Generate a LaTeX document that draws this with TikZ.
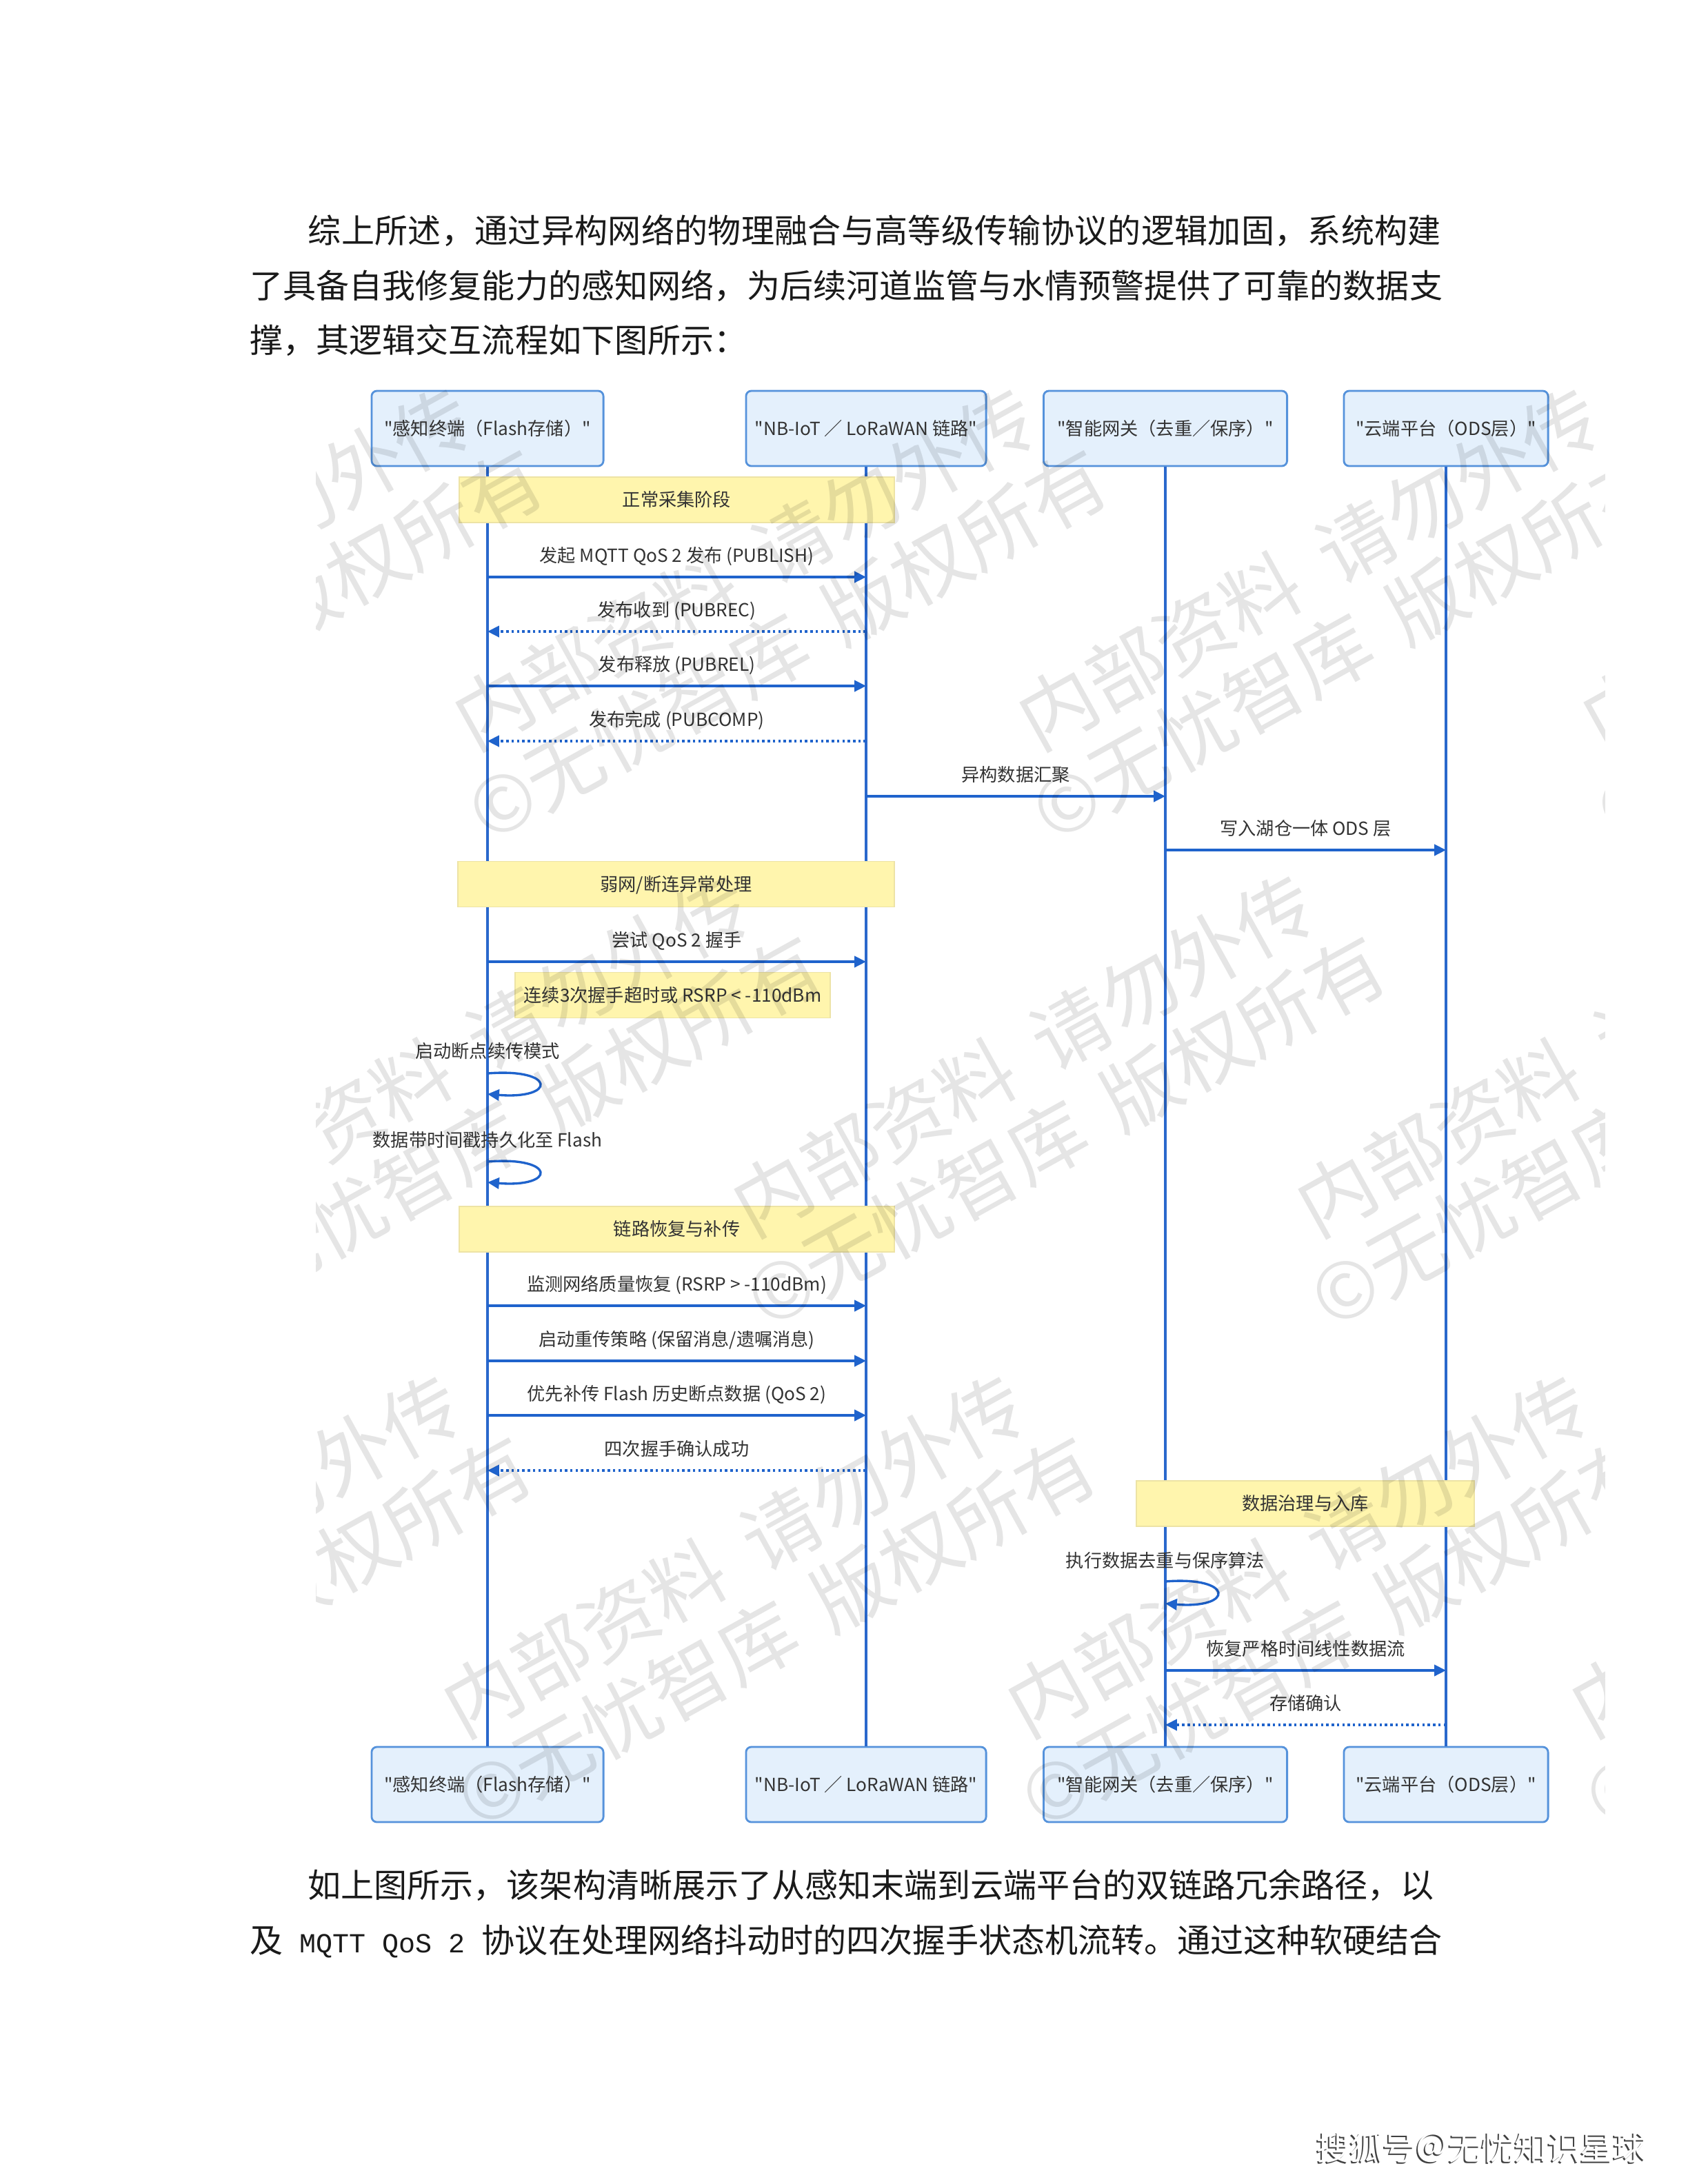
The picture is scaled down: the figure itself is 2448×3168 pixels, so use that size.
\documentclass[tikz,border=0pt]{standalone}
\usepackage{fontspec}
\setmainfont{Noto Sans CJK SC}
\newfontfamily\cjk{Noto Sans CJK SC}
\newfontfamily\monof{Liberation Mono}
\usetikzlibrary{arrows.meta,calc}

\definecolor{boxfill}{HTML}{E4F0FC}
\definecolor{boxline}{HTML}{5592DB}
\definecolor{lifec}{HTML}{2A68CC}
\definecolor{arrowc}{HTML}{1F63CC}
\definecolor{notefill}{HTML}{FFF5AD}
\definecolor{noteline}{HTML}{EDE3A5}
\definecolor{txt}{HTML}{333333}
\definecolor{ptxt}{HTML}{1A1A1A}

\newcommand\dfont{\cjk\fontsize{7.45pt}{9pt}\selectfont}
\newcommand\pfont{\cjk\fontsize{13.66pt}{16pt}\selectfont}
\newcommand\wmfont{\cjk\fontsize{32pt}{36pt}\selectfont}
\newcommand\sohufont{\cjk\fontsize{13.6pt}{16pt}\selectfont}

\ExplSyntaxOn
\NewDocumentCommand\spacedline{mm}{\tl_map_inline:nn{#2}{##1\hspace{#1}}}
\ExplSyntaxOff

\tikzset{
  actor/.style={draw=boxline, fill=boxfill, line width=0.8pt, rounded corners=2.2pt,
    minimum height=1.09cm, inner sep=0pt, font=\dfont, text=txt,
    text height=0.22cm, text depth=0.03cm},
  notebox/.style={draw=noteline, fill=notefill, line width=0.5pt, minimum height=0.66cm,
    inner sep=0pt, font=\dfont, text=txt, text height=0.22cm, text depth=0.03cm},
  lbl/.style={font=\dfont, text=txt, inner sep=0pt, text height=0.22cm, text depth=0.03cm},
  life/.style={draw=lifec, line width=0.9pt},
  req/.style={draw=arrowc, line width=0.95pt, -{Triangle[length=4.8pt,width=4.6pt]}},
  rep/.style={req, dash pattern=on 1pt off 1.2pt},
  para/.style={font=\pfont, text=ptxt, anchor=west, inner sep=0pt,
    text height=0.4cm, text depth=0.05cm},
  wm/.style={rotate=29, align=center, font=\wmfont, text=black, text opacity=0.10, inner sep=0pt},
}

\newcommand\msg[6]{%
  \coordinate (#1y) at (0,#4);
  \draw[#5] (#2 |- #1y) -- (#3 |- #1y);
  \node[lbl] (#1) at ($(#2 |- #1y)!0.5!(#3 |- #1y)+(0,-31)$) {#6};
}
\newcommand\selfmsg[6]{%
  \coordinate (#1a) at (0,#4);
  \coordinate (#1b) at (0,#5);
  \coordinate (#1c) at (0,#3);
  \node[lbl] (#1) at (#2 |- #1c) {#6};
  \draw[req] (#2 |- #1a) .. controls +(100,-8) and +(100,8) .. (#2 |- #1b);
}

\begin{document}
\begin{tikzpicture}[x=0.01cm,y=-0.01cm]
\useasboundingbox (0,0) rectangle (2448,3168);
\fill[white] (0,0) rectangle (2448,3168);

% paragraph before
\node[para] (p1) at (446,335) {\spacedline{0.003cm}{综上所述，通过异构网络的物理融合与高等级传输协议的逻辑加固，系统构建}};
\node[para] (p2) at (362,415) {了具备自我修复能力的感知网络，为后续河道监管与水情预警提供了可靠的数据支};
\node[para] (p3) at (362,494) {撑，其逻辑交互流程如下图所示：};

% participants
\node[actor, minimum width=3.36cm] (a1) at (707,621.5) {"感知终端（Flash存储）"};
\node[actor, minimum width=3.48cm] (a2) at (1256,621.5) {"NB-IoT ／ LoRaWAN 链路"};
\node[actor, minimum width=3.53cm] (a3) at (1690,621.5) {"智能网关（去重／保序）"};
\node[actor, minimum width=2.96cm] (a4) at (2097,621.5) {"云端平台（ODS层）"};
\node[actor, minimum width=3.36cm] (b1) at (707,2588.5) {"感知终端（Flash存储）"};
\node[actor, minimum width=3.48cm] (b2) at (1256,2588.5) {"NB-IoT ／ LoRaWAN 链路"};
\node[actor, minimum width=3.53cm] (b3) at (1690,2588.5) {"智能网关（去重／保序）"};
\node[actor, minimum width=2.96cm] (b4) at (2097,2588.5) {"云端平台（ODS层）"};

% lifelines
\draw[life] (a1.south) -- (b1.north);
\draw[life] (a2.south) -- (b2.north);
\draw[life] (a3.south) -- (b3.north);
\draw[life] (a4.south) -- (b4.north);

% notes
\node[notebox, minimum width=6.31cm] (n1) at (981.5,725) {正常采集阶段};
\node[notebox, minimum width=6.33cm] (n2) at (980.5,1282.5) {弱网/断连异常处理};
\node[notebox, minimum width=4.57cm] (n3) at (975.5,1443.5) {连续3次握手超时或 RSRP < -110dBm};
\node[notebox, minimum width=6.31cm] (n4) at (981.5,1783) {链路恢复与补传};
\node[notebox, minimum width=4.90cm] (n5) at (1893,2181) {数据治理与入库};

% messages
\msg{m1}{a1}{a2}{837}{req}{发起 MQTT QoS 2 发布 (PUBLISH)}
\msg{m2}{a2}{a1}{916}{rep}{发布收到 (PUBREC)}
\msg{m3}{a1}{a2}{995}{req}{发布释放 (PUBREL)}
\msg{m4}{a2}{a1}{1075}{rep}{发布完成 (PUBCOMP)}
\msg{m5}{a2}{a3}{1155}{req}{异构数据汇聚}
\msg{m6}{a3}{a4}{1233}{req}{写入湖仓一体 ODS 层}
\msg{m7}{a1}{a2}{1395}{req}{尝试 QoS 2 握手}
\selfmsg{s1}{a1}{1525}{1557}{1587}{启动断点续传模式}
\selfmsg{s2}{a1}{1654}{1685}{1715}{数据带时间戳持久化至 Flash}
\msg{m8}{a1}{a2}{1894}{req}{监测网络质量恢复 (RSRP > -110dBm)}
\msg{m9}{a1}{a2}{1974}{req}{启动重传策略 (保留消息/遗嘱消息)}
\msg{m10}{a1}{a2}{2053}{req}{优先补传 Flash 历史断点数据 (QoS 2)}
\msg{m11}{a2}{a1}{2133}{rep}{四次握手确认成功}
\selfmsg{s3}{a3}{2264}{2294}{2326}{执行数据去重与保序算法}
\msg{m12}{a3}{a4}{2423}{req}{恢复严格时间线性数据流}
\msg{m13}{a4}{a3}{2502}{rep}{存储确认}

% watermark over the diagram image
\begin{scope}
  \clip (458,545) rectangle (2327,2665);
  \foreach \cx/\cy [count=\i] in {293/879, 1111/879, 1929/879, 2747/879,
      -121/1585, 697/1585, 1515/1585, 2333/1585,
      277/2311, 1095/2311, 1913/2311, 2731/2311}
    \node[wm, name=wm\i] at (\cx,\cy) {内部资料\hspace{0.4em}请勿外传\\©无忧智库\hspace{0.4em}版权所有};
\end{scope}

% paragraph after
\node[para] (p4) at (446,2735) {如上图所示，该架构清晰展示了从感知末端到云端平台的双链路冗余路径，以};
\node[para] (p5) at (362,2815) {及{\monof\fontsize{11.38pt}{13pt}\selectfont\ MQTT QoS 2\ }协议在处理网络抖动时的四次握手状态机流转。通过这种软硬结合};

% source mark
\node[font=\sohufont, text=black!75, inner sep=0pt] (sohush) at (2146.5,3117) {搜狐号＠无忧知识星球};
\node[font=\sohufont, text=white, inner sep=0pt] (sohu) at (2148.5,3115) {搜狐号＠无忧知识星球};
\end{tikzpicture}
\end{document}
